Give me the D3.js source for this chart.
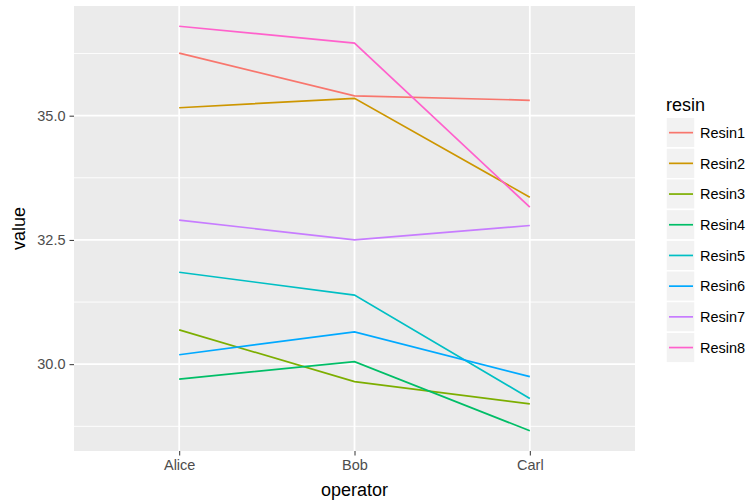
<!DOCTYPE html>
<html>
<head>
<meta charset="utf-8">
<script src="https://cdn.jsdelivr.net/npm/d3@7"></script>
<style>
  html, body { margin: 0; padding: 0; background: #fff; }
  svg { display: block; font-family: "Liberation Sans", Arial, Helvetica, sans-serif; }
</style>
</head>
<body>
<svg id="chart" width="749" height="504"></svg>
<script>
const operators = ["Alice", "Bob", "Carl"];
const resins = ["Resin1", "Resin2", "Resin3", "Resin4", "Resin5", "Resin6", "Resin7", "Resin8"];
const resin1 = [36.26, 35.40, 35.31];
const resin2 = [35.16, 35.35, 33.36];
const resin3 = [30.69, 29.65, 29.20];
const resin4 = [29.70, 30.05, 28.66];
const resin5 = [31.85, 31.39, 29.31];
const resin6 = [30.19, 30.65, 29.75];
const resin7 = [32.90, 32.50, 32.79];
const resin8 = [36.80, 36.46, 33.16];
const seriesValues = [resin1, resin2, resin3, resin4, resin5, resin6, resin7, resin8];
const yTicks = [30.0, 32.5, 35.0];
const yMinorTicks = [28.75, 31.25, 33.75, 36.25];
const colors = ["#F8766D", "#CD9600", "#7CAE00", "#00BE67", "#00BFC4", "#00A9FF", "#C77CFF", "#FF61CC"];

const svg = d3.select("#chart");
const panel = { left: 74, right: 635, top: 6, bottom: 451 };

// discrete x scale with ggplot-like expansion (0.6 units on each side)
const x = d3.scalePoint().domain(operators).range([0, 1]);
const xPos = d3.scaleLinear().domain([0.4, 3.6]).range([panel.left, panel.right]);
const xOf = name => xPos(operators.indexOf(name) + 1);

const allVals = seriesValues.flat();
const lo = d3.min(allVals), hi = d3.max(allVals), pad = (hi - lo) * 0.05;
const y = d3.scaleLinear().domain([lo - pad, hi + pad]).range([panel.bottom, panel.top]);

// panel background
svg.append("rect")
  .attr("x", panel.left).attr("y", panel.top)
  .attr("width", panel.right - panel.left).attr("height", panel.bottom - panel.top)
  .attr("fill", "#EBEBEB");

// minor grid
svg.append("g").selectAll("line").data(yMinorTicks).join("line")
  .attr("x1", panel.left).attr("x2", panel.right)
  .attr("y1", d => y(d)).attr("y2", d => y(d))
  .attr("stroke", "#fff").attr("stroke-width", 0.9);

// major grid
svg.append("g").selectAll("line").data(yTicks).join("line")
  .attr("x1", panel.left).attr("x2", panel.right)
  .attr("y1", d => y(d)).attr("y2", d => y(d))
  .attr("stroke", "#fff").attr("stroke-width", 1.8);
svg.append("g").selectAll("line").data(operators).join("line")
  .attr("x1", d => xOf(d)).attr("x2", d => xOf(d))
  .attr("y1", panel.top).attr("y2", panel.bottom)
  .attr("stroke", "#fff").attr("stroke-width", 1.8);

// lines
const line = d3.line().x((d, i) => xOf(operators[i])).y(d => y(d));
svg.append("g").selectAll("path").data(seriesValues).join("path")
  .attr("d", d => line(d))
  .attr("fill", "none")
  .attr("stroke", (d, i) => colors[i])
  .attr("stroke-width", 1.7);

// x axis
const xAxis = d3.axisBottom(d3.scaleOrdinal().domain(operators).range(operators.map(xOf)))
  .tickSize(4.5).tickPadding(4);
const gx = svg.append("g").attr("transform", `translate(0,${panel.bottom})`).call(xAxis);
gx.select(".domain").remove();
gx.selectAll(".tick line").attr("stroke", "#333").attr("stroke-width", 1);
gx.selectAll(".tick text").attr("fill", "#4D4D4D").style("font-size", "14.5px")
  .style("font-family", "'Liberation Sans', Arial, sans-serif");

// y axis
const yAxis = d3.axisLeft(y).tickValues(yTicks).tickFormat(d3.format(".1f")).tickSize(4.5).tickPadding(4);
const gy = svg.append("g").attr("transform", `translate(${panel.left},0)`).call(yAxis);
gy.select(".domain").remove();
gy.selectAll(".tick line").attr("stroke", "#333").attr("stroke-width", 1);
gy.selectAll(".tick text").attr("fill", "#4D4D4D").style("font-size", "14.5px")
  .style("font-family", "'Liberation Sans', Arial, sans-serif");

// axis titles
svg.append("text")
  .attr("x", (panel.left + panel.right) / 2).attr("y", 496)
  .attr("text-anchor", "middle").attr("fill", "#000")
  .style("font-size", "18px").text("operator");
svg.append("text")
  .attr("transform", `translate(25,${(panel.top + panel.bottom) / 2}) rotate(-90)`)
  .attr("text-anchor", "middle").attr("fill", "#000")
  .style("font-size", "18px").text("value");

// legend
const leg = svg.append("g").attr("transform", "translate(666,0)");
leg.append("text").attr("x", 0).attr("y", 111).attr("fill", "#000")
  .style("font-size", "18px").text("resin");
const keyH = 30.7, keyW = 29, keyTop = 117.3;
const items = leg.selectAll("g.item").data(resins).join("g")
  .attr("class", "item")
  .attr("transform", (d, i) => `translate(0,${keyTop + i * keyH})`);
items.append("rect").attr("x", 0).attr("y", 0).attr("width", keyW).attr("height", keyH)
  .attr("fill", "#F2F2F2").attr("stroke", "#fff").attr("stroke-width", 1.5);
items.append("line").attr("x1", 3).attr("x2", keyW - 2)
  .attr("y1", keyH / 2).attr("y2", keyH / 2)
  .attr("stroke", (d, i) => colors[i]).attr("stroke-width", 1.7);
items.append("text").attr("x", keyW + 5).attr("y", keyH / 2).attr("dy", "0.36em")
  .attr("fill", "#000").style("font-size", "14.5px").text(d => d);
</script>
</body>
</html>
